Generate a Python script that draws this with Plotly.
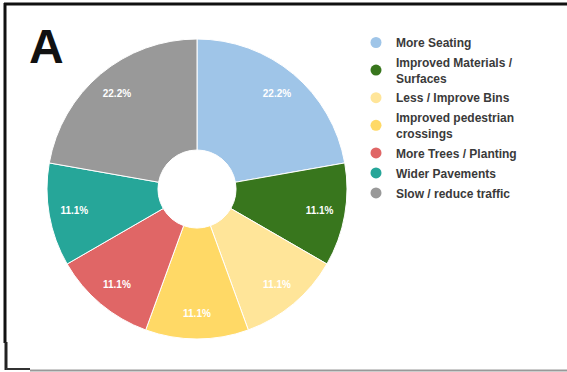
import plotly.graph_objects as go

# Survey responses: suggested street improvements
categories = [
    "More Seating",
    "Improved Materials /<br>Surfaces",
    "Less / Improve Bins",
    "Improved pedestrian<br>crossings",
    "More Trees / Planting",
    "Wider Pavements",
    "Slow / reduce traffic",
]
responses = [2, 1, 1, 1, 1, 1, 2]
colors = ["#9fc5e8", "#38761d", "#ffe599", "#ffd966", "#e06666", "#26a699", "#999999"]

W, H = 567, 372

fig = go.Figure()

pie_domain = dict(x=[47 / W, 347 / W], y=[1 - 339 / H, 1 - 39 / H])

# Donut ring
fig.add_trace(go.Pie(
    labels=categories,
    values=responses,
    sort=False,
    direction="clockwise",
    rotation=0,
    hole=0.26,
    marker=dict(colors=colors, line=dict(color="white", width=1)),
    textinfo="none",
    hoverinfo="label+percent",
    showlegend=False,
    domain=pie_domain,
))

# Percentage labels, set in the outer part of the ring
fig.add_trace(go.Pie(
    labels=categories,
    values=responses,
    sort=False,
    direction="clockwise",
    rotation=0,
    hole=0.66,
    marker=dict(colors=["rgba(0,0,0,0)"] * len(categories), line=dict(width=0)),
    texttemplate="<b>%{percent:.1%}</b>",
    textposition="inside",
    insidetextorientation="horizontal",
    insidetextfont=dict(color="white", size=10, family="Liberation Sans"),
    hoverinfo="skip",
    showlegend=False,
    domain=pie_domain,
))

# Legend entries with round swatches
for i, (name, c) in enumerate(zip(categories, colors)):
    fig.add_trace(go.Scatter(
        x=[None], y=[None], mode="markers", name=f"<b>{name}</b>",
        legendgroup=f"g{i}",
        marker=dict(symbol="circle", size=11, color=c),
    ))

# Frame lines
line_k = dict(color="#111111", width=3)
shapes = [
    dict(type="line", xref="paper", yref="paper", x0=4 / W, x1=1, y0=1 - 4 / H, y1=1 - 4 / H, line=line_k),
    dict(type="line", xref="paper", yref="paper", x0=5 / W, x1=5 / W, y0=1 - 3 / H, y1=1 - 343 / H, line=line_k),
    dict(type="line", xref="paper", yref="paper", x0=6 / W, x1=6 / W, y0=1 - 342 / H, y1=1 - 370 / H,
         line=dict(color="#222222", width=3)),
    dict(type="line", xref="paper", yref="paper", x0=6 / W, x1=30 / W, y0=1 - 369 / H, y1=1 - 369 / H,
         line=dict(color="#333333", width=2)),
    dict(type="line", xref="paper", yref="paper", x0=30 / W, x1=1, y0=1 - 370.5 / H, y1=1 - 370.5 / H,
         line=dict(color="#999999", width=2)),
]

fig.update_layout(
    width=W, height=H,
    margin=dict(l=0, r=0, t=0, b=0),
    paper_bgcolor="white", plot_bgcolor="white",
    xaxis=dict(visible=False), yaxis=dict(visible=False),
    shapes=shapes,
    showlegend=True,
    legend=dict(
        x=356 / W, y=1 - 28 / H, xanchor="left", yanchor="top",
        font=dict(family="Liberation Sans", size=12, color="#3a3a3a"),
        itemwidth=30, tracegroupgap=1, bgcolor="rgba(0,0,0,0)",
    ),
    annotations=[dict(
        text="<b>A</b>", xref="paper", yref="paper", x=27 / W, y=1 - 18 / H,
        xanchor="left", yanchor="top", showarrow=False,
        font=dict(family="Liberation Sans", size=48, color="#111111"),
    )],
)

fig.write_html("out.html")
